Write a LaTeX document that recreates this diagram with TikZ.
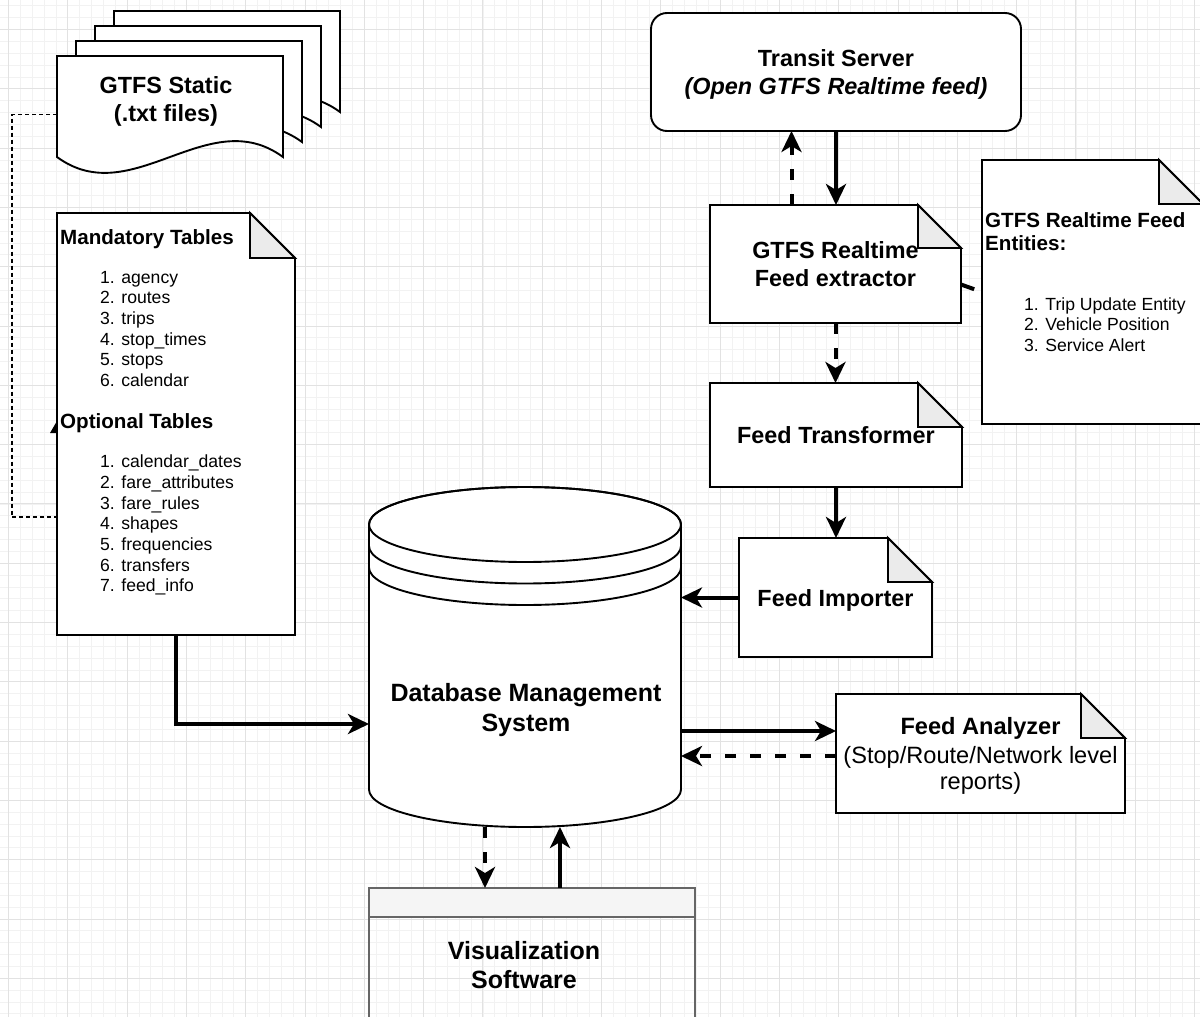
\documentclass[tikz,border=0pt]{standalone}
\usepackage{fontspec}
\setmainfont{Liberation Sans}
\usetikzlibrary{arrows.meta,calc}

\definecolor{foldgray}{HTML}{EBEBEB}
\definecolor{gridminor}{HTML}{F2F2F2}
\definecolor{gridmajor}{HTML}{E2E2E2}
\definecolor{visline}{HTML}{666666}
\definecolor{vishead}{HTML}{F5F5F5}

\pgfdeclarelayer{gridlayer}
\pgfdeclarelayer{shapelayer}
\pgfsetlayers{gridlayer,shapelayer,main}

\newcommand\sizeTitle{\fontsize{23.4}{28.5}\selectfont\bfseries}
\newcommand\sizeBig{\fontsize{25}{29.5}\selectfont\bfseries}
\newcommand\sizePlain{\fontsize{23.6}{26}\selectfont}
\newcommand\sizeHead{\fontsize{20.6}{24}\selectfont\bfseries}
\newcommand\sizeList{\fontsize{17.6}{20.7}\selectfont}

% outline of a note shape with a folded top-right corner
\newcommand\drawnote[2]{%
  \filldraw[outline, fill=white]
    (#1.north west) -- ([xshift=-#2pt]#1.north east) -- ([yshift=-#2pt]#1.north east)
    -- (#1.south east) -- (#1.south west) -- cycle;
  \filldraw[outline, fill=foldgray]
    ([xshift=-#2pt]#1.north east) -- ([xshift=-#2pt,yshift=-#2pt]#1.north east)
    -- ([yshift=-#2pt]#1.north east) -- cycle;
}

\begin{document}
\begin{tikzpicture}[x=1pt,y=-1pt,
  box/.style={draw=none, inner sep=0pt, outer sep=0pt},
  titletext/.style={font=\sizeTitle, align=center, inner sep=0pt},
  bigtext/.style={font=\sizeBig, align=center, inner sep=0pt},
  headtext/.style={font=\sizeHead, anchor=base west, inner sep=0pt},
  listtext/.style={font=\sizeList, anchor=base west, inner sep=0pt},
  outline/.style={draw=black, line width=1.9pt, line join=miter},
  flow/.style={line width=4pt, -{Stealth[length=21pt, width=20pt, inset=6pt]}},
  dflow/.style={flow, dash pattern=on 11pt off 14pt},
  dotline/.style={line width=1.4pt, dash pattern=on 4pt off 3pt},
  visbox/.style={draw=visline, line width=1.6pt}
]
\useasboundingbox (0,0) rectangle (1200,1017);

% ---------- background grid ----------
\begin{pgfonlayer}{gridlayer}
  \fill[white] (0,0) rectangle (1200,1017);
  \foreach \k in {-1,...,101}
    \draw[gridminor, line width=0.8pt] ({8.5+\k*11.86},0) -- ({8.5+\k*11.86},1017);
  \foreach \k in {-3,...,84}
    \draw[gridminor, line width=0.8pt] (0,{29.5+\k*11.86}) -- (1200,{29.5+\k*11.86});
  \foreach \k in {0,...,20}
    \draw[gridmajor, line width=1pt] ({8.5+\k*59.3},0) -- ({8.5+\k*59.3},1017);
  \foreach \k in {-1,...,16}
    \draw[gridmajor, line width=1pt] (0,{29.5+\k*59.3}) -- (1200,{29.5+\k*59.3});
\end{pgfonlayer}

% ---------- nodes ----------
\node[box, minimum width=226pt, minimum height=117pt] (gs) at (170,114.5) {};
\node[titletext] (gstext) at (166,101.5) {GTFS Static\\(.txt files)};

\node[box, minimum width=238pt, minimum height=422pt] (mand) at (176,424) {};
\node[headtext] (mhead) at (60,244) {Mandatory Tables};
\node[listtext] (m1) at (100,283.3) {1. agency};
\node[listtext] (m2) at (100,303.97) {2. routes};
\node[listtext] (m3) at (100,324.64) {3. trips};
\node[listtext] (m4) at (100,345.31) {4. stop\_times};
\node[listtext] (m5) at (100,365.98) {5. stops};
\node[listtext] (m6) at (100,386.65) {6. calendar};
\node[headtext] (ohead) at (60,428.3) {Optional Tables};
\node[listtext] (o1) at (100,467.7) {1. calendar\_dates};
\node[listtext] (o2) at (100,488.37) {2. fare\_attributes};
\node[listtext] (o3) at (100,509.04) {3. fare\_rules};
\node[listtext] (o4) at (100,529.71) {4. shapes};
\node[listtext] (o5) at (100,550.38) {5. frequencies};
\node[listtext] (o6) at (100,571.05) {6. transfers};
\node[listtext] (o7) at (100,591.72) {7. feed\_info};

\node[box, minimum width=370pt, minimum height=118pt] (ts) at (836,72) {};
\node[titletext] (tstext) at (836,74.5) {Transit Server\\\textit{(Open GTFS Realtime feed)}};
\node[box, titletext, minimum width=251pt, minimum height=118pt] (ext) at (835.5,264)
  {GTFS Realtime\\Feed extractor};

\node[box, minimum width=221pt, minimum height=264pt] (ent) at (1092.5,292) {};
\node[headtext] (ehead1) at (985,227.5) {GTFS Realtime Feed};
\node[headtext] (ehead2) at (985,250.3) {Entities:};
\node[listtext] (e1) at (1024,310) {1. Trip Update Entity};
\node[listtext] (e2) at (1024,330.6) {2. Vehicle Position};
\node[listtext] (e3) at (1024,351.2) {3. Service Alert};

\node[box, titletext, minimum width=252pt, minimum height=104pt] (trans) at (836,435) {Feed Transformer};
\node[box, minimum width=193pt, minimum height=119pt] (imp) at (835.5,597.5) {};
\node[titletext] (imptext) at (835.5,600.5) {Feed Importer};
\node[box, minimum width=289pt, minimum height=119pt] (ana) at (980.5,753.5) {};
\node[font=\sizePlain, align=center, inner sep=0pt] (anatext) at (980.5,755.5)
  {\textbf{Feed Analyzer}\\[3pt](Stop/Route/Network level\\reports)};

\node[box, minimum width=312pt, minimum height=340pt] (db) at (525,657) {};
\node[bigtext] (dbtext) at (526,710) {Database Management\\System};

\node[box, minimum width=326pt, minimum height=150pt, anchor=north] (vis) at (532,888) {};
\node[bigtext] (vistext) at (524,965) {Visualization\\Software};

% ---------- shapes ----------
\begin{pgfonlayer}{shapelayer}
  % stack of static files
  \foreach \d in {3,2,1}
    \filldraw[outline, fill=white, shift={({19*\d},{-15*\d})}]
      (57,56) -- (283,56) -- (283,157) .. controls (208,102) and (132,212) .. (57,157) -- cycle;
  \filldraw[outline, fill=white]
    (gs.north west) -- (gs.north east) -- (283,157) .. controls (208,102) and (132,212) .. (57,157) -- cycle;

  \drawnote{mand}{45}
  \drawnote{ext}{43}
  \drawnote{ent}{44}
  \drawnote{trans}{44}
  \drawnote{imp}{44}
  \drawnote{ana}{44}

  \filldraw[outline, fill=white, rounded corners=16pt] (ts.north west) rectangle (ts.south east);

  % database cylinder
  \filldraw[outline, fill=white]
    (369,524.5) -- (369,789.5) arc[start angle=180, end angle=360, x radius=156pt, y radius=37.5pt]
    -- (681,524.5) arc[start angle=0, end angle=180, x radius=156pt, y radius=37.5pt] -- cycle;
  \draw[outline] (525,524.5) ellipse[x radius=156pt, y radius=37.5pt];
  \draw[outline] (369,546) arc[start angle=180, end angle=360, x radius=156pt, y radius=37.5pt];
  \draw[outline] (369,567.5) arc[start angle=180, end angle=360, x radius=156pt, y radius=37.5pt];

  % visualization window
  \draw[visbox] (vis.north west) rectangle (vis.south east);
  \filldraw[visbox, fill=vishead] (vis.north west) rectangle ([yshift=-29pt]vis.north east);
\end{pgfonlayer}

% ---------- connectors ----------
\draw[dotline] (gs.west) -- ++(-45,0) |- ([yshift=-93pt]mand.west);
\fill ([shift={(-7,9)}]mand.west) -- ++(7,-12) -- ++(0,12) -- cycle;

\draw[flow] (mand.south) |- ([yshift=-67pt]db.west);

\draw[flow] (ts.south) -- (ts.south |- ext.north);
\coordinate (upA) at ([xshift=-44pt]ext.north);
\draw[dflow] (upA) -- (upA |- ts.south);

\coordinate (entA) at ([yshift=-20.5pt]ext.east);
\draw[line width=4pt, dash pattern=on 14pt off 20pt] (entA) -- (ent.west);

\draw[dflow] (ext.south) -- (ext.south |- trans.north);
\draw[flow] (trans.south) -- (trans.south |- imp.north);
\draw[flow] (imp.west) -- (imp.west -| db.east);

\coordinate (outA) at ([yshift=-74pt]db.east);
\draw[flow] (outA) -- (outA -| ana.west);
\coordinate (inA) at ([yshift=-2.5pt]ana.west);
\draw[dflow] (inA) -- (inA -| db.east);

\coordinate (downA) at ([xshift=-40pt]db.south);
\draw[dflow] (downA) -- (downA |- vis.north);
\coordinate (upB) at ([xshift=35pt]db.south);
\draw[flow] (upB |- vis.north) -- (upB);
\end{tikzpicture}
\end{document}
